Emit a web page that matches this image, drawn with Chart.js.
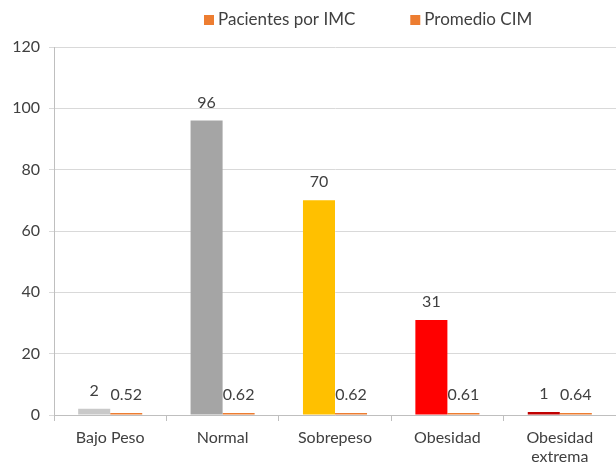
<!DOCTYPE html>
<html>
<head>
<meta charset="utf-8">
<script src="https://cdn.jsdelivr.net/npm/chart.js@4.4.0/dist/chart.umd.min.js"></script>
<style>
  html, body { margin: 0; padding: 0; background: #fff; }
  #wrap { width: 616px; height: 471px; position: relative; }
</style>
</head>
<body>
<div id="wrap"><canvas id="imcChart"></canvas></div>
<script>
  // --- Data ---
  const categories = ['Bajo Peso', 'Normal', 'Sobrepeso', 'Obesidad', ['Obesidad', 'extrema']];
  const pacientes = [2, 96, 70, 31, 1];
  const promedioCim = [0.52, 0.62, 0.62, 0.61, 0.64];
  const seriesNames = ['Pacientes por IMC', 'Promedio CIM'];
  const barColors = ['#C9C9C9', '#A5A5A5', '#FFC000', '#FF0000', '#C00000'];
  const cimColor = '#ED7D31';

  const textColor = '#404040';
  const fontFamily = 'Lato, "Open Sans", sans-serif';

  // value labels above each bar
  const valueLabels = {
    id: 'valueLabels',
    afterDatasetsDraw(chart) {
      const ctx = chart.ctx;
      ctx.save();
      ctx.fillStyle = textColor;
      ctx.font = '16px ' + fontFamily;
      ctx.textAlign = 'center';
      ctx.textBaseline = 'bottom';
      chart.data.datasets.forEach((ds, di) => {
        chart.getDatasetMeta(di).data.forEach((bar, i) => {
          ctx.fillText(String(ds.data[i]), bar.x, bar.y - 10);
        });
      });
      ctx.restore();
    }
  };

  // legend drawn at the top, offset to the right like the original
  const topLegend = {
    id: 'topLegend',
    afterDraw(chart) {
      const ctx = chart.ctx;
      ctx.save();
      ctx.font = '17px ' + fontFamily;
      ctx.textBaseline = 'middle';
      let x = 204;
      const y = 20;
      seriesNames.forEach((name) => {
        ctx.fillStyle = cimColor;
        ctx.fillRect(x, y - 5, 10, 10);
        ctx.fillStyle = textColor;
        ctx.fillText(name, x + 14, y);
        x += 14 + ctx.measureText(name).width + 55;
      });
      ctx.restore();
    }
  };

  new Chart(document.getElementById('imcChart'), {
    type: 'bar',
    data: {
      labels: categories,
      datasets: [
        { label: seriesNames[0], data: pacientes, backgroundColor: barColors },
        { label: seriesNames[1], data: promedioCim, backgroundColor: cimColor, minBarLength: 2 }
      ]
    },
    options: {
      responsive: true,
      maintainAspectRatio: false,
      animation: false,
      categoryPercentage: 0.57,
      barPercentage: 1,
      layout: { padding: { top: 47, right: 0, left: 0, bottom: 0 } },
      scales: {
        x: {
          afterFit(scale) { scale.height = 56; },
          grid: { drawOnChartArea: false, color: '#BFBFBF', tickLength: 6 },
          border: { color: '#BFBFBF' },
          ticks: { color: textColor, font: { size: 16, family: fontFamily }, padding: 7, maxRotation: 0 }
        },
        y: {
          min: 0,
          max: 120,
          afterFit(scale) { scale.width = 54; },
          ticks: { stepSize: 20, color: textColor, font: { size: 16, family: fontFamily }, padding: 9 },
          grid: { color: '#D9D9D9', tickLength: 5 },
          border: { color: '#BFBFBF' }
        }
      },
      plugins: {
        legend: { display: false },
        tooltip: { enabled: false }
      }
    },
    plugins: [valueLabels, topLegend]
  });
</script>
</body>
</html>
